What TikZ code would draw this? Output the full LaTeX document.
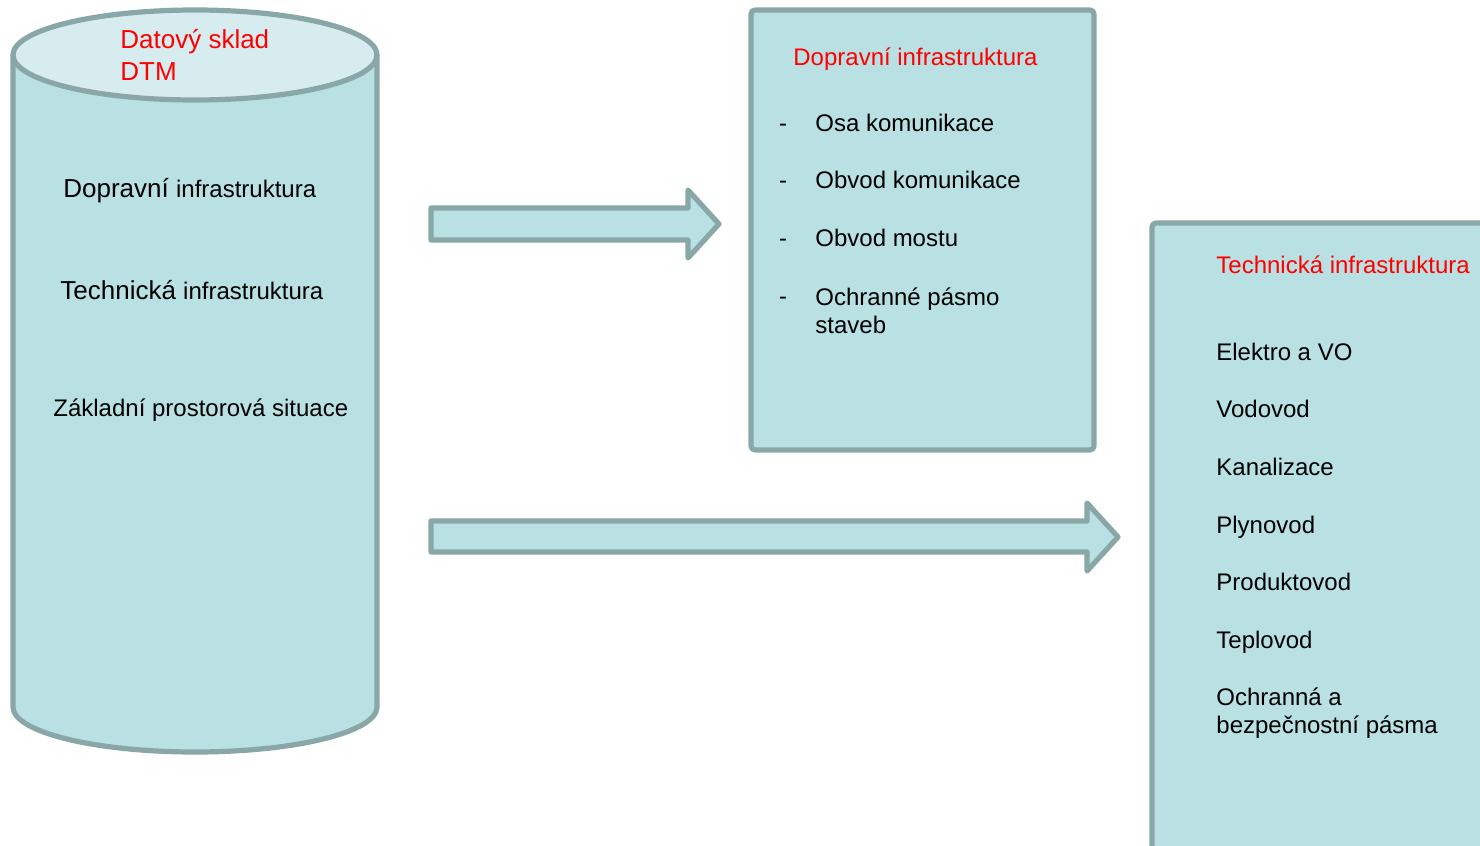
\documentclass[tikz,border=0pt]{standalone}
\usepackage{fontspec}
\setmainfont{Liberation Sans}
\definecolor{fillc}{HTML}{B9E0E3}
\definecolor{topc}{HTML}{D6ECEF}
\definecolor{edgec}{HTML}{8AA7A8}
\definecolor{redc}{HTML}{FF0000}
\tikzset{
  shapestyle/.style={fill=fillc, draw=edgec, line width=2.6pt, line join=round},
  item/.style={anchor=west, inner sep=0pt, font=\fontsize{12pt}{14.2pt}\selectfont, align=left},
  title/.style={item, text=redc},
  dashmark/.style={anchor=base, inner sep=0pt, font=\fontsize{12pt}{14pt}\selectfont},
}
\begin{document}
\begin{tikzpicture}[x=0.5pt, y=-0.5pt]
\useasboundingbox (0,0) rectangle (1480,846);
\clip (0,0) rectangle (1480,846);
% cylinder
\draw[shapestyle] (13,55) -- (13,707)
  .. controls (13,732) and (94.5,752) .. (195,752)
  .. controls (295.5,752) and (377,732) .. (377,707) -- (377,55);
\draw[shapestyle, fill=topc] (13,55)
  .. controls (13,30) and (94.5,10) .. (195,10)
  .. controls (295.5,10) and (377,30) .. (377,55)
  .. controls (377,80) and (295.5,100) .. (195,100)
  .. controls (94.5,100) and (13,80) .. (13,55) -- cycle;
\node[title, font=\fontsize{13pt}{16pt}\selectfont] (cyltitle) at (120,55) {Datový sklad\\DTM};
\node[item] (c1) at (63,191) {\fontsize{13pt}{15pt}\selectfont Dopravní \fontsize{12pt}{14pt}\selectfont infrastruktura};
\node[item] (c2) at (60,290) {\fontsize{13pt}{15pt}\selectfont Technická \fontsize{12pt}{14pt}\selectfont infrastruktura};
\node[item] (c3) at (53,410) {Základní prostorová situace};
% arrows
\draw[shapestyle] (431,208) -- (688,208) -- (688,190) -- (719,224) -- (688,258) -- (688,240) -- (431,240) -- cycle;
\draw[shapestyle] (431,521) -- (1087,521) -- (1087,503) -- (1118,537) -- (1087,571) -- (1087,552) -- (431,552) -- cycle;
% box 1
\draw[shapestyle, rounded corners=2pt] (751,10) rectangle (1094,450);
\node[title] (b1t) at (793,59) {Dopravní infrastruktura};
\node[dashmark] (d1) at (783,131) {-};
\node[item] (b1a) at (815,123) {Osa komunikace};
\node[dashmark] (d2) at (783,188) {-};
\node[item] (b1b) at (815,180) {Obvod komunikace};
\node[dashmark] (d3) at (783,246) {-};
\node[item] (b1c) at (815,238) {Obvod mostu};
\node[dashmark] (d4) at (783,304) {-};
\node[item] (b1d) at (815,311) {Ochranné pásmo\\staveb};
% box 2
\draw[shapestyle, rounded corners=2pt] (1152,223) rectangle (1500,880);
\node[title] (b2t) at (1216,265) {Technická infrastruktura};
\node[item] (b2a) at (1216,352) {Elektro a VO};
\node[item] (b2b) at (1216,409) {Vodovod};
\node[item] (b2c) at (1216,467) {Kanalizace};
\node[item] (b2d) at (1216,527) {Plynovod};
\node[item] (b2e) at (1216,582) {Produktovod};
\node[item] (b2f) at (1216,642) {Teplovod};
\node[item] (b2g) at (1216,713) {Ochranná a\\bezpečnostní pásma};
\end{tikzpicture}
\end{document}
